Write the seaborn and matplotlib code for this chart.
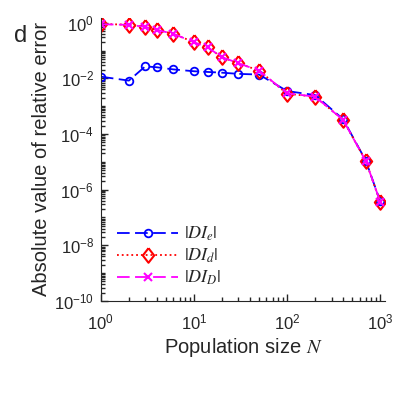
import matplotlib
matplotlib.use("Agg")
import matplotlib.pyplot as plt
import matplotlib.ticker as mticker
import numpy as np
import pandas as pd
import seaborn as sns

N = [1, 2, 3, 4, 6, 10, 14, 20, 30, 50, 100, 200, 400, 700, 1000]
DI_e = [0.0115, 0.0083, 0.027, 0.025, 0.021, 0.018, 0.017, 0.016, 0.0145, 0.0137,
        0.0035, 0.0025, 3.4e-4, 1.1e-5, 3.8e-7]
DI_d = [0.9, 0.85, 0.72, 0.55, 0.4, 0.2, 0.13, 0.057, 0.035, 0.019,
        0.0028, 0.0022, 3.2e-4, 1.07e-5, 3.6e-7]
DI_D = [0.88, 0.84, 0.71, 0.55, 0.4, 0.2, 0.13, 0.058, 0.035, 0.019,
        0.0029, 0.0022, 3.2e-4, 1.07e-5, 3.7e-7]
labels = [r'$|DI_e|$', r'$|DI_d|$', r'$|DI_D|$']

sns.set_style("ticks")
plt.rcParams['font.family'] = ['Liberation Sans', 'DejaVu Sans']
plt.rcParams['mathtext.fontset'] = 'stix'

fig = plt.figure(figsize=(4.05, 4.05), dpi=100)
ax = fig.add_axes([0.249, 0.257, 0.702, 0.699])

diamond = [(0, 1), (0.78, 0), (0, -1), (-0.78, 0), (0, 1)]

df = pd.DataFrame({'N': N, 'e': DI_e, 'd': DI_d, 'D': DI_D})
sns.lineplot(data=df, x='N', y='e', ax=ax, color='#0000ff', linestyle=(0, (7, 3)),
             marker='o', markersize=5.5, markerfacecolor='none', markeredgecolor='#0000ff',
             markeredgewidth=1.3, linewidth=1.3, label=labels[0])
sns.lineplot(data=df, x='N', y='d', ax=ax, color='#ff0000', linestyle=':',
             marker=diamond, markersize=10.5, markerfacecolor='none', markeredgecolor='#ff0000',
             markeredgewidth=1.5, linewidth=1.3, label=labels[1])
sns.lineplot(data=df, x='N', y='D', ax=ax, color='#ff00ff', linestyle=(0, (7, 3)),
             marker='x', markersize=5.5, markeredgecolor='#ff00ff',
             markeredgewidth=1.5, linewidth=1.3, label=labels[2])

ax.set_xscale('log')
ax.set_yscale('log')
ax.set_xlim(1, 1130)
ax.set_ylim(1e-10, 1.5)
ax.set_yticks([10.0**k for k in range(-10, 1, 2)])
ax.yaxis.set_major_formatter(mticker.FuncFormatter(lambda v, p: r'$\mathregular{10^{%d}}$' % round(np.log10(v))))
ax.yaxis.set_minor_locator(mticker.LogLocator(base=10, subs=np.arange(1, 10), numticks=30))
ax.yaxis.set_minor_formatter(mticker.NullFormatter())
ax.set_xticks([1, 10, 100, 1000])
ax.xaxis.set_major_formatter(mticker.FuncFormatter(lambda v, p: r'$\mathregular{10^{%d}}$' % round(np.log10(v))))
ax.xaxis.set_minor_locator(mticker.LogLocator(base=10, subs=np.arange(2, 10), numticks=30))
ax.xaxis.set_minor_formatter(mticker.NullFormatter())
ax.tick_params(which='both', direction='in', labelsize=12, width=1)
ax.tick_params(which='major', length=5)
ax.tick_params(which='minor', length=3)
ax.tick_params(axis='x', pad=8)
ax.tick_params(axis='y', pad=5)
for s in ['top', 'right']:
    ax.spines[s].set_visible(False)

ax.set_xlabel(r'Population size $\mathit{N}$', fontsize=14.5, labelpad=3)
ax.set_ylabel('Absolute value of relative error', fontsize=14.5, labelpad=2)
ax.text(-0.305, 0.915, 'd', transform=ax.transAxes, fontsize=17)

leg = ax.legend(loc='lower left', bbox_to_anchor=(0.0, -0.01), frameon=False,
                handlelength=3.4, fontsize=13, labelspacing=0.2, handletextpad=0.3)

fig.savefig('out.png', dpi=100)
